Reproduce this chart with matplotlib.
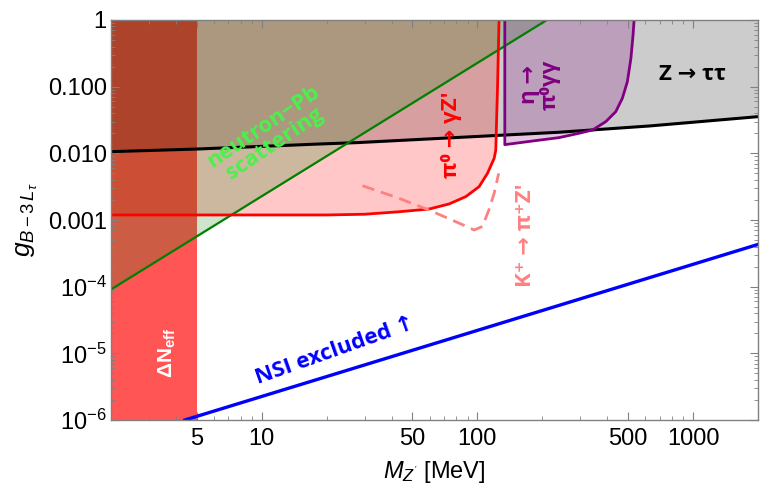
import numpy as np
import matplotlib
matplotlib.use('Agg')
import matplotlib.pyplot as plt
from matplotlib.ticker import FixedLocator, FixedFormatter, LogLocator, NullFormatter

plt.rcParams['font.family'] = ['Liberation Sans', 'DejaVu Sans']
plt.rcParams['mathtext.fontset'] = 'custom'
plt.rcParams['mathtext.rm'] = 'Liberation Sans'
plt.rcParams['mathtext.it'] = 'Liberation Sans:italic'
plt.rcParams['mathtext.bf'] = 'Liberation Sans:bold'

# data (x = M_Z' in MeV, y = coupling)
x_min, x_max = 2, 2000
y_min, y_max = 1e-6, 1

neff_x = [2, 5]

ztautau_x = [2, 5, 18.5, 28, 238, 625, 2000]
ztautau_y = [0.0106, 0.0116, 0.0138, 0.0145, 0.0207, 0.0257, 0.0355]

npb_x = [2, 210]
npb_y = [9.1e-5, 1.0]

pi0_x = [2, 20, 30, 43.4, 59.7, 73.9, 88.3, 101.8, 111.3, 119.6, 121.7, 122.4, 124, 126]
pi0_y = [0.00119, 0.00119, 0.00122, 0.00133, 0.00146, 0.00174, 0.00224, 0.00316,
         0.0050, 0.0084, 0.0112, 0.0224, 0.1, 1.0]

eta_x = [134, 134, 180, 239, 296, 342, 394, 438, 470, 496, 515, 527, 533]
eta_y = [1.0, 0.0135, 0.0153, 0.0172, 0.0200, 0.0224, 0.0299, 0.0421, 0.0668,
         0.119, 0.266, 0.596, 1.0]

kaon_x = [29.3, 43.4, 59.7, 88.3, 96.6, 105.5, 113, 119.5, 125.5]
kaon_y = [3.27e-3, 2.11e-3, 1.41e-3, 8.1e-4, 7.08e-4, 8.0e-4, 1.41e-3, 2.5e-3, 5.0e-3]

nsi_x = [4.4, 2000]
nsi_y = [1e-6, 4.3e-4]

x_ticks = [5, 10, 50, 100, 500, 1000]
x_labels = ['5', '10', '50', '100', '500', '1000']
y_ticks = [1e-6, 1e-5, 1e-4, 1e-3, 1e-2, 1e-1, 1]
y_labels = [r'$10^{-6}$', r'$10^{-5}$', r'$10^{-4}$', '0.001', '0.010', '0.100', '1']

fig = plt.figure(figsize=(7.64, 4.95), dpi=100)
ax = fig.add_axes([0.1453, 0.1515, 0.8468, 0.8081])
ax.set_xscale('log')
ax.set_yscale('log')
ax.set_xlim(x_min, x_max)
ax.set_ylim(y_min, y_max)

# Delta N_eff band (opaque, underneath everything)
ax.axvspan(neff_x[0], neff_x[1], color='#ff5555', lw=0, zorder=0)

# excluded regions
ax.fill_between(ztautau_x, ztautau_y, y_max, color='black', alpha=0.2, lw=0, zorder=1)
ax.fill_between(pi0_x, pi0_y, y_max, color='red', alpha=0.22, lw=0, zorder=1)
ax.fill_between(npb_x, npb_y, y_max, color='green', alpha=0.2, lw=0, zorder=1)
ax.fill(eta_x, eta_y, color='purple', alpha=0.22, lw=0, zorder=1)

ax.plot(ztautau_x, ztautau_y, color='black', lw=2.2, zorder=3)
ax.plot(npb_x, npb_y, color='green', lw=1.6, zorder=3)
ax.plot(pi0_x, pi0_y, color='red', lw=2.0, zorder=3)
ax.plot(eta_x, eta_y, color='purple', lw=2.0, zorder=3)
ax.plot(kaon_x, kaon_y, color='#ff8080', lw=2.0, ls=(0, (4.5, 2.5)), zorder=3)
ax.plot(nsi_x, nsi_y, color='blue', lw=2.4, zorder=3)

# labels on the plot
lab_font = ['Open Sans', 'DejaVu Sans']
txt = dict(fontweight='bold', ha='center', va='center', zorder=5, family=lab_font)
ax.text(3.64, 1.0e-5, r'$\mathbf{\Delta N_{eff}}$', color='white', fontsize=15,
        rotation=90, ha='center', va='center', zorder=5)
ax.text(10.8, 0.0185, 'neutron\u2212Pb\nscattering', color='#4cf04c', fontsize=16,
        rotation=34, linespacing=0.95, **txt)
ax.text(75.5, 0.0188, 'π\u2070 \u2192 γZ\'', color='red', fontsize=16, rotation=90, **txt)
ax.text(195, 0.106, 'η \u2192\nπ\u2070γγ', color='purple', fontsize=16, rotation=90,
        linespacing=1.0, **txt)
ax.text(990, 0.15, 'Z \u2192 ττ', color='black', fontsize=16, **txt)
ax.text(168, 6.0e-4, 'K\u207a \u2192 π\u207aZ\'', color='#ff8080', fontsize=16,
        rotation=90, **txt)
ax.text(22, 1.08e-5, 'NSI excluded \u2191', color='blue', fontsize=16, rotation=19.5, **txt)

# axes styling
ax.xaxis.set_major_locator(FixedLocator(x_ticks))
ax.xaxis.set_major_formatter(FixedFormatter(x_labels))
ax.xaxis.set_minor_locator(LogLocator(base=10, subs=np.arange(2, 10)))
ax.xaxis.set_minor_formatter(NullFormatter())
ax.yaxis.set_major_locator(FixedLocator(y_ticks))
ax.yaxis.set_major_formatter(FixedFormatter(y_labels))
ax.yaxis.set_minor_locator(LogLocator(base=10, subs=np.arange(2, 10)))
ax.yaxis.set_minor_formatter(NullFormatter())

ax.tick_params(which='both', direction='in', top=True, right=True, color='#808080',
               labelsize=17)
ax.tick_params(axis='x', pad=6)
ax.tick_params(axis='y', pad=3)
ax.tick_params(which='major', length=6, width=0.8)
ax.tick_params(which='minor', length=3, width=0.6)
for s in ax.spines.values():
    s.set_color('#808080')
    s.set_linewidth(1.0)
    s.set_zorder(6)

ax.set_xlabel(r"$M_{Z^{'}}$ [MeV]", fontsize=17, labelpad=6)
ax.set_ylabel(r'$g_{B-3\,L_\tau}$', fontsize=19, labelpad=6)

fig.savefig('out.png', dpi=100)
